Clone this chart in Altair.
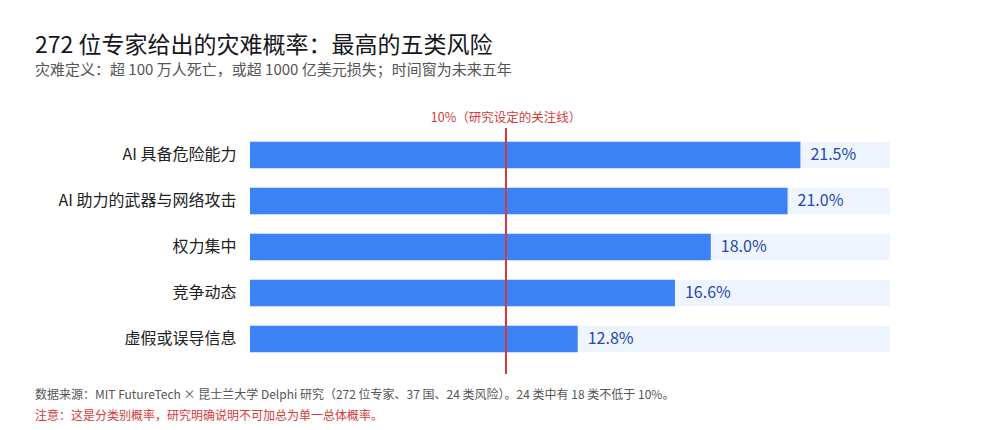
import pandas as pd
import altair as alt

# Data
categories = ["AI 具备危险能力", "AI 助力的武器与网络攻击", "权力集中", "竞争动态", "虚假或误导信息"]
probabilities = [21.5, 21.0, 18.0, 16.6, 12.8]
value_labels = ["21.5%", "21.0%", "18.0%", "16.6%", "12.8%"]
axis_max = 25
threshold = 10
threshold_label = "10%（研究设定的关注线）"

title_text = "272 位专家给出的灾难概率：最高的五类风险"
subtitle_text = "灾难定义：超 100 万人死亡，或超 1000 亿美元损失；时间窗为未来五年"
source_note = "数据来源：MIT FutureTech × 昆士兰大学 Delphi 研究（272 位专家、37 国、24 类风险）。24 类中有 18 类不低于 10%。"
warning_note = "注意：这是分类别概率，研究明确说明不可加总为单一总体概率。"

FONT = "Noto Sans CJK SC"

df = pd.DataFrame({
    "category": categories,
    "prob": probabilities,
    "label": value_labels,
    "max": [axis_max] * len(categories),
})
rule_df = pd.DataFrame({"x": [threshold], "label": [threshold_label]})
notes_df = pd.DataFrame({"source": [source_note], "warning": [warning_note]})

y_enc = alt.Y(
    "category:N",
    sort=categories,
    title=None,
    scale=alt.Scale(paddingInner=0.42, paddingOuter=0.21),
    axis=alt.Axis(
        domain=False, ticks=False, grid=False, labelPadding=14,
        labelFontSize=16, labelColor="#222222", labelFont=FONT, labelLimit=300,
    ),
)
x_scale = alt.Scale(domain=[0, axis_max], nice=False)

base = alt.Chart(df)

# light track behind each bar, full axis length
background = base.mark_bar(color="#eef5ff").encode(
    x=alt.X("max:Q", scale=x_scale, axis=None),
    y=y_enc,
)

bars = base.mark_bar(color="#3b82f6").encode(
    x=alt.X("prob:Q", scale=x_scale, axis=None),
    y=y_enc,
)

values = base.mark_text(
    align="left", baseline="middle", dx=10, fontSize=16, font=FONT, color="#2447b0"
).encode(
    x=alt.X("prob:Q", scale=x_scale, axis=None),
    y=y_enc,
    text="label:N",
)

# 10% threshold line and its label
rule = alt.Chart(rule_df).mark_rule(color="#d63a3a", strokeWidth=2).encode(
    x=alt.X("x:Q", scale=x_scale, axis=None),
    y=alt.value(-4),
    y2=alt.value(242),
)

rule_text = alt.Chart(rule_df).mark_text(
    align="center", baseline="middle", fontSize=12.5, font=FONT, color="#d63a3a"
).encode(
    x=alt.X("x:Q", scale=x_scale, axis=None),
    y=alt.value(-14),
    text="label:N",
)

# footnotes
source_text = alt.Chart(notes_df).mark_text(
    align="left", baseline="middle", fontSize=12, font=FONT, color="#555555"
).encode(
    x=alt.value(-215),
    y=alt.value(263),
    text="source:N",
)

warning_text = alt.Chart(notes_df).mark_text(
    align="left", baseline="middle", fontSize=12, font=FONT, color="#d63a3a"
).encode(
    x=alt.value(-215),
    y=alt.value(284),
    text="warning:N",
)

chart = (
    alt.layer(background, bars, values, rule, rule_text, source_text, warning_text)
    .properties(
        width=640,
        height=230,
        background="white",
        autosize=alt.AutoSizeParams(type="none"),
        padding={"left": 242, "top": 124, "right": 100, "bottom": 60},
        title=alt.Title(
            text=title_text,
            subtitle=subtitle_text,
            anchor="start",
            frame="group",
            dx=-215,
            offset=34,
            font=FONT,
            fontSize=23,
            fontWeight="normal",
            color="#16161d",
            subtitleFont=FONT,
            subtitleFontSize=15,
            subtitleColor="#555555",
            subtitlePadding=5,
        ),
    )
    .configure_view(stroke=None, strokeWidth=0)
)

chart.save("out.html", embed_options={"renderer": "svg", "actions": False})
